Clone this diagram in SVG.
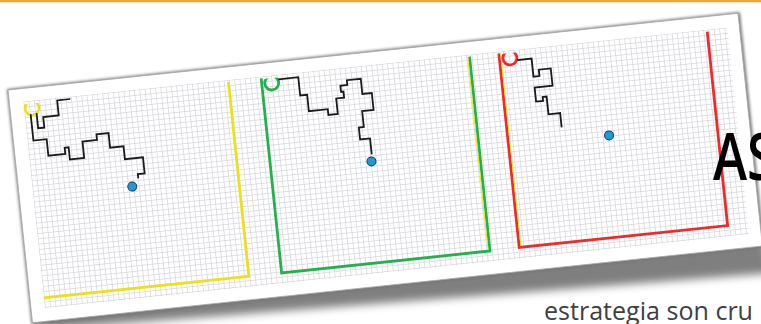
<svg xmlns="http://www.w3.org/2000/svg" width="761" height="324" viewBox="0 0 761 324">
<style>
.walk{fill:none;stroke:#1a1a1a;stroke-width:1.8;stroke-linejoin:miter}
.yl{fill:none;stroke:#f0e010;stroke-width:2.6}
.gr{fill:none;stroke:#22b24c;stroke-width:2.8}
.rd{fill:none;stroke:#ee2a2a;stroke-width:2.8}
.thin{fill:none;stroke:#f0e010;stroke-width:0.9}
.dot{fill:#1e9bd7;stroke:#163a5c;stroke-width:1}
.ring{clip-path:url(#cclip)}
</style>
<defs>
<pattern id="grid" patternUnits="userSpaceOnUse" x="14" y="13" width="5.3" height="5.3">
<path d="M0 0.3H5.3M0.3 0V5.3" stroke="#cfd0d6" stroke-width="0.75" fill="none"/>
</pattern>
<clipPath id="gclip"><rect x="0" y="14.5" width="734" height="215"/></clipPath>
<clipPath id="cclip"><rect x="0" y="15.8" width="734" height="214"/></clipPath>
<filter id="blur" x="-10%" y="-20%" width="120%" height="150%"><feGaussianBlur stdDeviation="4"/></filter>
<filter id="blur2" x="-10%" y="-20%" width="120%" height="150%"><feGaussianBlur stdDeviation="1.5"/></filter>
</defs>
<rect x="0" y="0" width="761" height="2.2" fill="#f5a431"/>
<g id="card" transform="translate(8,90) rotate(-6)">
<polygon points="2,226 734,222 742,262 14,242" fill="#555" opacity="0.75" filter="url(#blur)"/>
<rect x="-1" y="-1" width="737" height="237" fill="#777" filter="url(#blur2)"/>
<rect x="0" y="0" width="734" height="234" fill="#ffffff" stroke="#a8a8a8" stroke-width="0.8"/>
<rect x="14" y="13" width="708" height="208" fill="url(#grid)"/>
<g clip-path="url(#gclip)">
<g id="panel-yellow">
<polyline class="yl" points="220,15 220,210.5 14,210.5"/>
<circle class="yl ring" cx="22" cy="20.4" r="7"/>
<polyline class="walk" points="20,26.5 20,53 33.3,53 33.3,69.5 50.3,69.5 50.3,63.3 54.3,63.3 54.3,75.5 68.7,75.5 68.7,59 83.3,59 83.3,53.3 95.5,53.3 95.5,68 109,68 109,81 127.2,81 127.2,97.2 120.3,97.2 120.3,101.5"/>
<polyline class="walk" points="26,26 26,41.2 32.2,41.2 32.2,30.6 47.8,30.6 47.8,15.4 61,15.4"/>
<circle class="dot" cx="113.5" cy="109" r="4.5"/>
</g>
<g id="panel-green">
<polyline class="gr" points="253,15 253,210.5 462.5,210.5 462.5,15"/>
<line class="thin" x1="460.7" y1="15" x2="460.7" y2="209"/>
<circle class="gr ring" cx="263" cy="20.6" r="7"/>
<polyline class="walk" points="270,17.6 290,17.6 290,36 297,36 297,52.5 316,52.5 316,58.3 325.5,58.3 325.5,42.7 333.5,42.7 333.5,36.6 331,36.6 331,30.5 338,30.5 338,25.7 352,25.7 352,41 361.5,41 361.5,58 350,58 350,74 345,74 345,86 355,86 355,102"/>
<circle class="dot" cx="354" cy="109" r="4.5"/>
</g>
<g id="panel-red">
<polyline class="rd" points="492,15 492,210 701.5,210 701.5,15"/>
<line class="thin" x1="493.8" y1="15" x2="493.8" y2="208.5"/>
<circle class="rd ring" cx="502.5" cy="20.6" r="7"/>
<polyline class="walk" points="509.5,23.5 524,23.5 524,41.7 530,41.7 530,35.3 542,35.3 542,52.7 524,52.7 524,66.7 531,66.7 531,62.8 535,62.8 535,80.7 546.7,80.7 546.7,95"/>
<circle class="dot" cx="593" cy="108" r="4.5"/>
</g>
</g>
</g>
<text transform="translate(713,180) scale(0.78,1)" font-family="'Open Sans', 'Noto Sans', sans-serif" font-size="66" font-weight="600" fill="#000">AS</text>
<text x="544" y="320" font-family="'Open Sans', 'Noto Sans', sans-serif" font-size="26" fill="#404040" textLength="209" lengthAdjust="spacingAndGlyphs">estrategia son cru</text>
</svg>
